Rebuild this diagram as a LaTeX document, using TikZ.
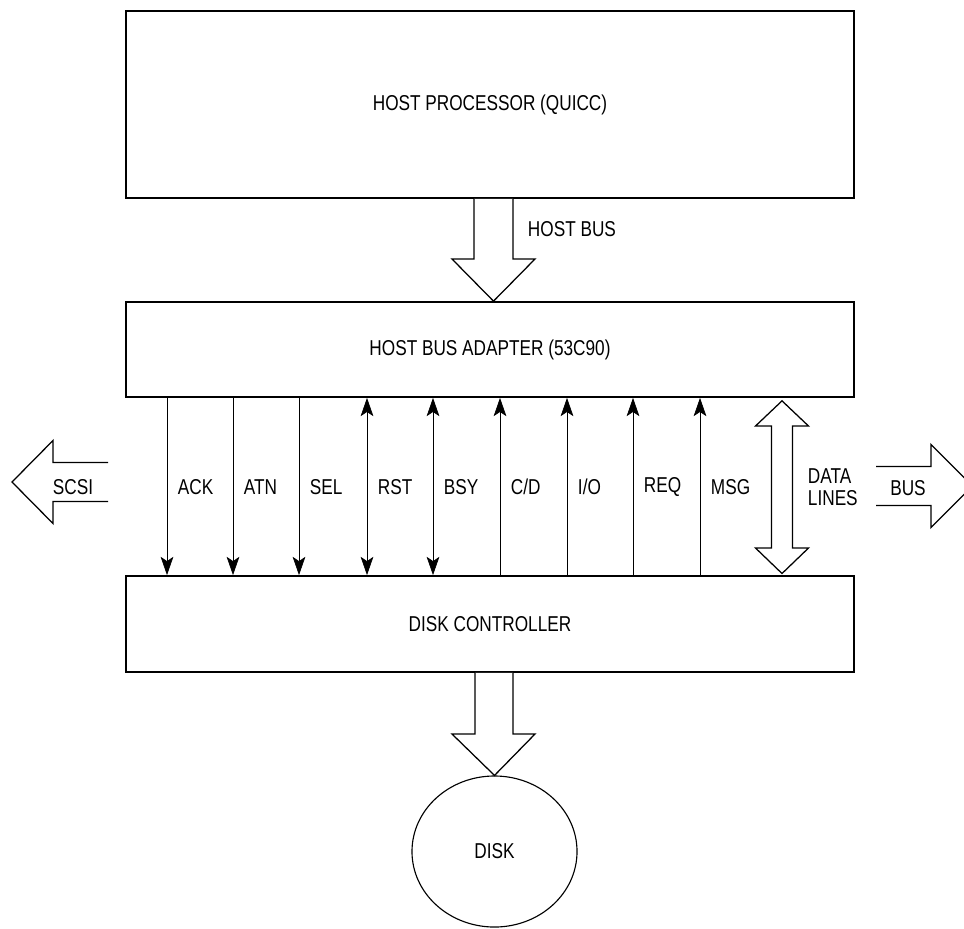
\documentclass[tikz,border=0pt]{standalone}
\usepackage{fontspec}
\setmainfont{Liberation Sans}[FakeStretch=0.8]
\usetikzlibrary{arrows.meta, shapes.geometric}

\tikzset{
    blocco/.style={draw, line width=1.2pt, minimum width=18.2cm, inner sep=0pt},
    freccia/.style={draw, line width=0.9pt, fill=white, line join=miter},
    segnale/.style={line width=0.5pt},
    giu/.style={->},
    su/.style={<-},
    entrambi/.style={<->}
}

\begin{document}
\begin{tikzpicture}[x=0.025cm, y=-0.025cm, >={Stealth[length=13pt, width=9pt, inset=3pt]},
        font=\fontsize{15.3pt}{18pt}\selectfont]
        \useasboundingbox (0, 0) rectangle (964, 928);

        % Blocchi
        \node[blocco, minimum height=4.675cm] (host) at (490, 104.5) {HOST PROCESSOR (QUICC)};
        \node[blocco, minimum height=2.375cm] (hba) at (490, 349.5) {HOST BUS ADAPTER (53C90)};
        \node[blocco, minimum height=2.4cm] (dc) at (490, 624) {DISK CONTROLLER};
        \node[ellipse, draw, line width=0.8pt, minimum width=4.125cm, minimum height=3.775cm, inner sep=0pt]
            (disk) at (494.5, 851.5) {DISK};

        % Bus host (freccia larga)
        \draw[freccia] (474,0 |- host.south) -- (474, 259) -- (452, 259) -- (493.5,0 |- hba.north)
            -- (535, 259) -- (513, 259) -- (513,0 |- host.south);
        \node[anchor=west] (hostbus) at (523, 229) {HOST BUS};

        % Bus verso il disco
        \draw[freccia] (475,0 |- dc.south) -- (475, 734) -- (452, 734) -- (disk.north)
            -- (535, 734) -- (513, 734) -- (513,0 |- dc.south);

        % Linee di controllo SCSI
        \foreach \x/\nome/\verso in {167/ACK/giu, 233/ATN/giu, 299/SEL/giu, 367/RST/entrambi,
                433/BSY/entrambi, 500/{C/D}/su, 567/{I/O}/su, 633/REQ/su, 700/MSG/su} {
            \draw[segnale, \verso] (\x,0 |- hba.south) -- (\x,0 |- dc.north);
            \node[anchor=west] (sig\x) at (\x+6, 487) {\nome};
        }

        % Linee dati (doppia freccia larga)
        \draw[freccia] (782,0 |- hba.south) ++(0, 3) -- (808.5, 426) -- (792.5, 426) -- (792.5, 548)
            -- (808.5, 548) -- (782, 573.5) -- (755.5, 548) -- (771.5, 548) -- (771.5, 426)
            -- (755.5, 426) -- cycle;
        \node[anchor=west, align=left] (datalines) at (803, 487) {DATA\\[-2pt]LINES};

        % Frecce SCSI / BUS ai lati
        \draw[freccia] (108, 462.5) -- (53, 462.5) -- (53, 440.5) -- (12, 482)
            -- (53, 523.5) -- (53, 501.5) -- (108, 501.5);
        \node (scsi) at (73, 487) {SCSI};
        \draw[freccia] (876, 466.5) -- (931, 466.5) -- (931, 444.5) -- (972.5, 486)
            -- (931, 527.5) -- (931, 505.5) -- (876, 505.5);
        \node (bus) at (908, 488) {BUS};

    \end{tikzpicture}
\end{document}
